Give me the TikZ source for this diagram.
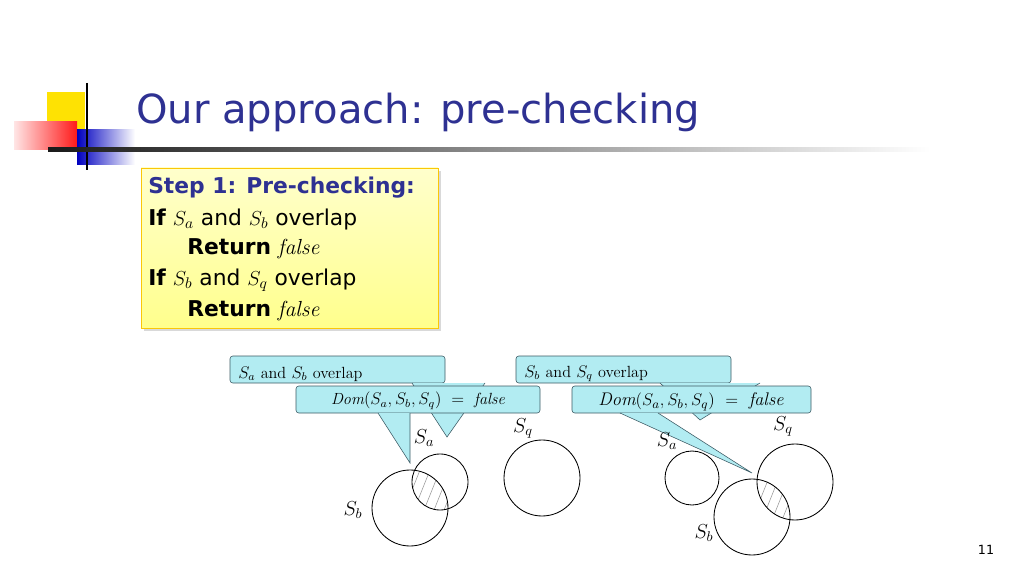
\documentclass[tikz,border=0pt]{standalone}
\usepackage{fontspec}
\setsansfont{DejaVu Sans}
\definecolor{titleblue}{RGB}{46,49,146}
\definecolor{notecyan}{RGB}{178,236,242}
\definecolor{noteline}{RGB}{60,90,100}
\begin{document}
\begin{tikzpicture}[
            x=0.025cm, y=-0.025cm,
            callout/.style={draw=noteline, fill=notecyan, rounded corners=2pt},
            note/.style={anchor=west, inner sep=0pt, font=\fontsize{11.5}{13}\selectfont},
            set/.style={draw, semithick},
            hatch/.style={draw=gray!80, thin},
            setlabel/.style={inner sep=0pt, font=\fontsize{14}{16}\selectfont},
            boxline/.style={anchor=west, inner sep=0pt, font=\sffamily\fontsize{15.5}{18}\selectfont}
          ]
          \useasboundingbox (0,0) rectangle (1024,576);
          % Slide decoration
          \fill[yellow!85!orange] (47,92) rectangle (85,130);
          \shade[left color=red!10, right color=red!90] (14,122) rectangle (77,150);
          \shade[left color=blue!75!black, right color=white] (77,130) rectangle (135,165);
          \draw[line width=2pt] (87,83) -- (87,170);
          \shade[left color=black!90, right color=white] (48,148) rectangle (930,152);
          \node[anchor=west, inner sep=0pt, text=titleblue, font=\sffamily\fontsize{28.5}{34}\selectfont] (title) at (136,112) {Our approach: pre-checking};

          % Algorithm box
          \fill[black!15] (144,171) rectangle (441,331);
          \shade[top color=yellow!20, bottom color=yellow!45, draw=yellow!60!orange] (141,168) rectangle (438,328);
          \node[boxline, text=titleblue] (step) at (148,188) {\textbf{Step 1: Pre-checking:}};
          \node[boxline] (if1) at (148,219) {\textbf{If} $S_a$ and $S_b$ overlap};
          \node[boxline] (ret1) at (187,249) {\textbf{Return} $\mathit{false}$};
          \node[boxline] (if2) at (148,280) {\textbf{If} $S_b$ and $S_q$ overlap};
          \node[boxline] (ret2) at (187,311) {\textbf{Return} $\mathit{false}$};

          % Left callouts
          \draw[callout] (230,356) rectangle (445,383);
          \draw[noteline, fill=notecyan] (412,383) -- (447,437) -- (485,383);
          \node[note] (ovab) at (238,374) {$S_a$ and $S_b$ overlap};
          \draw[callout] (296,386) rectangle (540,413);
          \draw[noteline, fill=notecyan] (378,413) -- (410,463) -- (410,413);
          \node[note, anchor=center] (dom1) at (418,401) {$\mathit{Dom}(S_a,S_b,S_q)\ =\ \mathit{false}$};

          % Right callouts
          \draw[callout] (516,356) rectangle (731,383);
          \draw[noteline, fill=notecyan] (660,383) -- (700,420) -- (760,383);
          \node[note] (ovbq) at (524,374) {$S_b$ and $S_q$ overlap};
          \draw[callout] (572,386) rectangle (811,413);
          \draw[noteline, fill=notecyan] (620,413) -- (752,473) -- (658,413);
          \node[note, anchor=center, font=\fontsize{13}{15}\selectfont] (dom2) at (691,402) {$\mathit{Dom}(S_a,S_b,S_q)\ =\ \mathit{false}$};

          % Left sets
          \begin{scope}
            \clip (440,482) circle (28);
            \clip (410,508) circle (38);
            \foreach \k in {0,...,6}
              \draw[hatch] (400+10*\k,520) -- (420+10*\k,470);
          \end{scope}
          \draw[set] (440,482) circle (28);
          \draw[set] (410,508) circle (38);
          \draw[set] (542,478) circle (38);
          \node[setlabel] (la) at (424,438) {$S_a$};
          \node[setlabel] (lb) at (353,510) {$S_b$};
          \node[setlabel] (lq) at (523,428) {$S_q$};

          % Right sets
          \begin{scope}
            \clip (795,482) circle (38);
            \clip (752,517) circle (38);
            \foreach \k in {0,...,6}
              \draw[hatch] (750+10*\k,525) -- (770+10*\k,475);
          \end{scope}
          \draw[set] (692,478) circle (27);
          \draw[set] (795,482) circle (38);
          \draw[set] (752,517) circle (38);
          \node[setlabel] (ra) at (667,441) {$S_a$};
          \node[setlabel] (rq) at (783,426) {$S_q$};
          \node[setlabel] (rb) at (704,533) {$S_b$};

          \node[inner sep=0pt, font=\sffamily\fontsize{9}{11}\selectfont] (page) at (986,550) {11};
        \end{tikzpicture}
\end{document}
